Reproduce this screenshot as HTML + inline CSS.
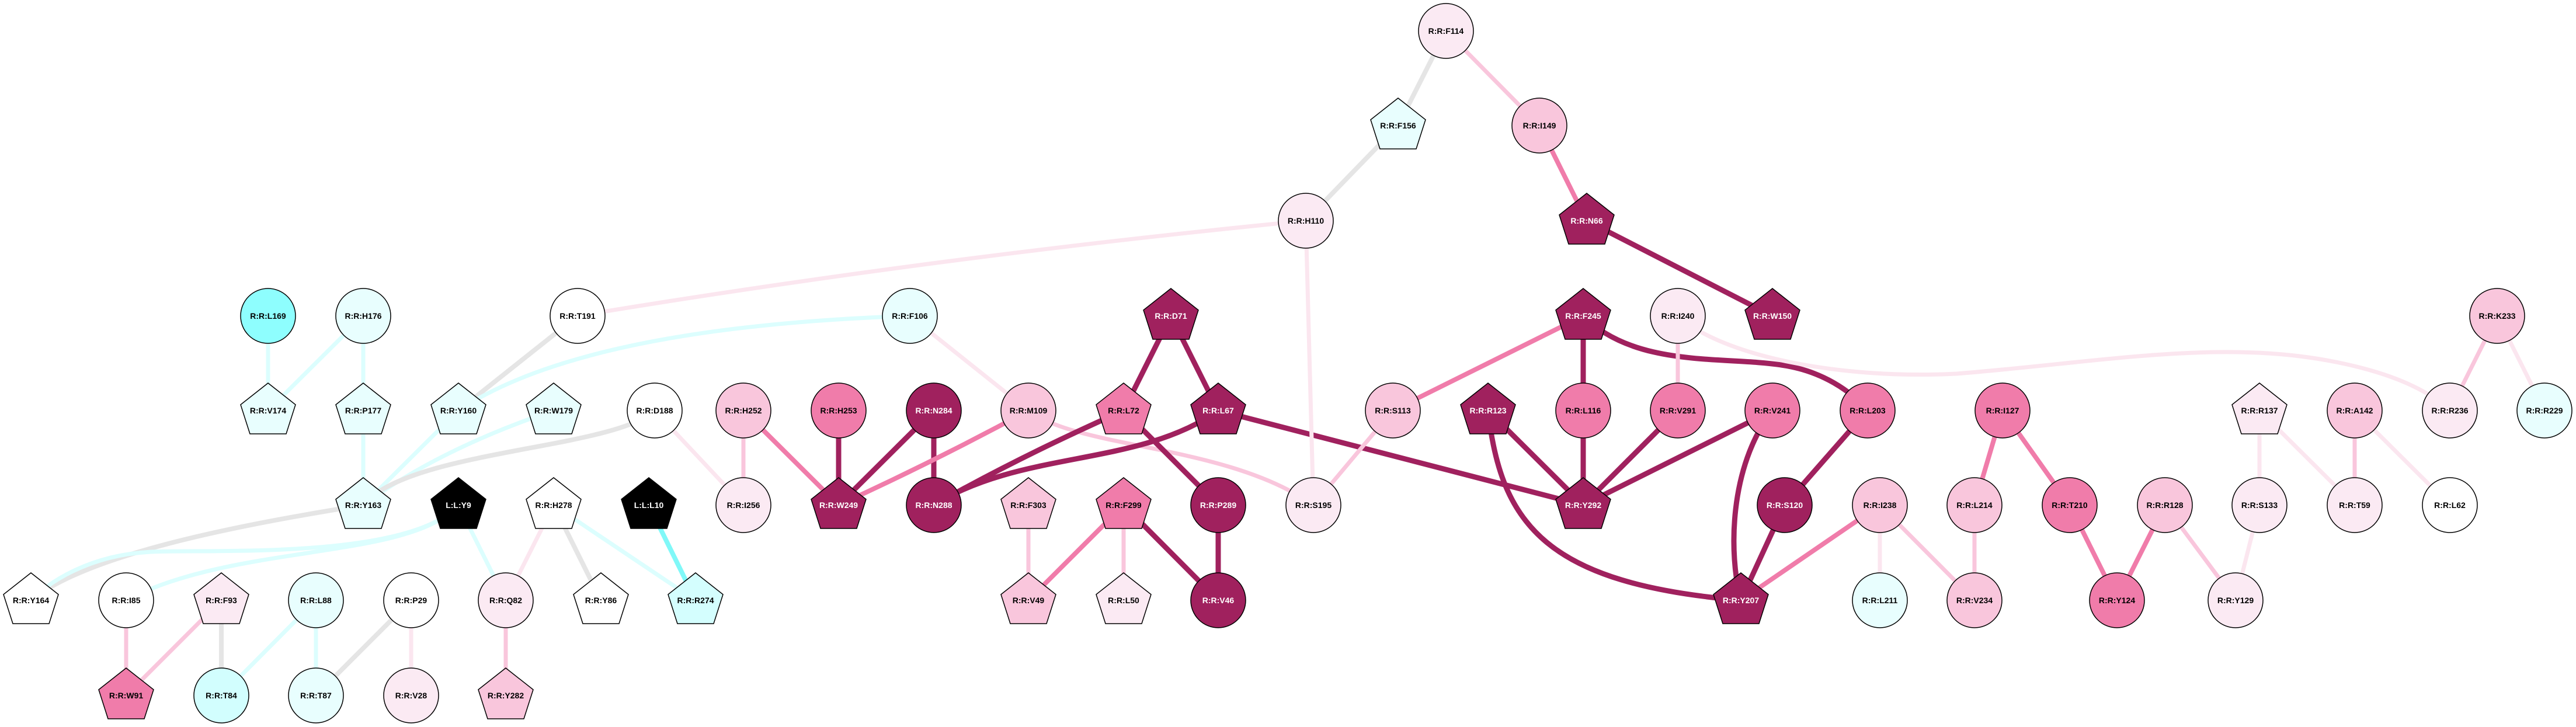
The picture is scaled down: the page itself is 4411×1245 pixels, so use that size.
<!DOCTYPE html>
<html><head><meta charset="utf-8"><style>
html,body{margin:0;padding:0;background:#fff;}
svg{display:block;}
text{font-family:"Liberation Sans",sans-serif;font-size:14px;font-weight:bold;text-anchor:middle;dominant-baseline:central;fill:#000;}
text.w{fill:#fff;}
.n{stroke:#000;stroke-width:1.5;}
path,line{fill:none;}
.dk{stroke:#a0215e;stroke-width:9;}
.md{stroke:#f07caa;stroke-width:8;}
.lp{stroke:#f9c6dc;stroke-width:7;}
.vp{stroke:#fbe6ef;stroke-width:7;}
.gr{stroke:#e5e5e5;stroke-width:8;}
.cy{stroke:#dcfefe;stroke-width:7;}
.cb{stroke:#80f8f8;stroke-width:8;}
</style></head><body>
<svg width="4411" height="1245" viewBox="0 0 4411 1245" xmlns="http://www.w3.org/2000/svg">
<defs>
<polygon id="pg" points="0,-47 47,-10 31,40 -31,40 -47,-10"/>
</defs>
<!-- edges -->
<g>
<line class="cy" x1="459" y1="541" x2="459" y2="703"/>
<line class="cy" x1="622" y1="541" x2="459" y2="703"/>
<line class="cy" x1="622" y1="541" x2="622" y2="703"/>
<line class="cy" x1="622" y1="703" x2="622" y2="865"/>
<line class="gr" x1="989" y1="541" x2="785" y2="703"/>
<path class="cy" d="M1558 541 Q1000 560 785 703"/>
<line class="cy" x1="785" y1="703" x2="622" y2="865"/>
<path class="cy" d="M948 703 Q750 770 622 865"/>
<path class="gr" d="M1121 703 C1050 770 700 770 622 865"/>
<line class="vp" x1="1121" y1="703" x2="1273" y2="865"/>
<path class="vp" d="M989 541 Q1600 440 2236 378"/>
<path class="gr" d="M622 865 C400 900 150 950 53 1028"/>
<path class="cy" d="M785 865 C700 960 350 940 260 945 C150 950 80 1000 53 1028"/>
<path class="cy" d="M785 865 C700 960 400 930 216 1028"/>
<line class="cy" x1="785" y1="865" x2="866" y2="1028"/>
<line class="vp" x1="948" y1="865" x2="866" y2="1028"/>
<line class="gr" x1="948" y1="865" x2="1029" y2="1028"/>
<line class="cy" x1="948" y1="865" x2="1191" y2="1028"/>
<line class="cb" x1="1111" y1="865" x2="1191" y2="1028"/>
<line class="lp" x1="216" y1="1028" x2="216" y2="1191"/>
<line class="lp" x1="379" y1="1028" x2="216" y2="1191"/>
<line class="gr" x1="379" y1="1028" x2="379" y2="1191"/>
<line class="cy" x1="541" y1="1028" x2="379" y2="1191"/>
<line class="cy" x1="541" y1="1028" x2="541" y2="1191"/>
<line class="gr" x1="704" y1="1028" x2="541" y2="1191"/>
<line class="vp" x1="704" y1="1028" x2="704" y2="1191"/>
<line class="lp" x1="866" y1="1028" x2="866" y2="1191"/>
<line class="vp" x1="1558" y1="541" x2="1761" y2="703"/>
<line class="lp" x1="1273" y1="703" x2="1273" y2="865"/>
<line class="md" x1="1273" y1="703" x2="1436" y2="865"/>
<line class="dk" x1="1436" y1="703" x2="1436" y2="865"/>
<line class="dk" x1="1599" y1="703" x2="1436" y2="865"/>
<line class="dk" x1="1599" y1="703" x2="1599" y2="865"/>
<path class="md" d="M1761 703 Q1600 790 1436 865"/>
<path class="lp" d="M1761 703 C1850 770 2100 760 2249 865"/>
<line class="dk" x1="2005" y1="541" x2="1924" y2="703"/>
<line class="dk" x1="2005" y1="541" x2="2086" y2="703"/>
<path class="dk" d="M1924 703 Q1750 780 1599 865"/>
<path class="dk" d="M2086 703 C1950 800 1750 770 1599 865"/>
<line class="dk" x1="1924" y1="703" x2="2086" y2="865"/>
<line class="dk" x1="2086" y1="703" x2="2711" y2="865"/>
<line class="lp" x1="1761" y1="865" x2="1761" y2="1028"/>
<line class="md" x1="1924" y1="865" x2="1761" y2="1028"/>
<line class="lp" x1="1924" y1="865" x2="1924" y2="1028"/>
<line class="dk" x1="1924" y1="865" x2="2086" y2="1028"/>
<line class="dk" x1="2086" y1="865" x2="2086" y2="1028"/>
<line class="vp" x1="2236" y1="378" x2="2249" y2="865"/>
<line class="lp" x1="2385" y1="703" x2="2249" y2="865"/>
<line class="md" x1="2711" y1="541" x2="2385" y2="703"/>
<line class="dk" x1="2711" y1="541" x2="2711" y2="703"/>
<path class="dk" d="M2711 541 C2800 630 2950 610 3050 625 C3120 635 3170 670 3198 703"/>
<line class="lp" x1="2873" y1="541" x2="2873" y2="703"/>
<path class="vp" d="M2873 541 C2950 610 3150 650 3350 640 C3600 620 3800 580 4000 620 C4100 640 4160 670 4195 703"/>
<line class="dk" x1="2548" y1="703" x2="2711" y2="865"/>
<path class="dk" d="M2548 703 C2570 900 2650 1000 2981 1028"/>
<line class="dk" x1="2711" y1="703" x2="2711" y2="865"/>
<line class="dk" x1="2873" y1="703" x2="2711" y2="865"/>
<line class="dk" x1="3035" y1="703" x2="2711" y2="865"/>
<path class="dk" d="M3035 703 C2960 800 2960 950 2981 1028"/>
<line class="dk" x1="3198" y1="703" x2="3056" y2="865"/>
<line class="dk" x1="3056" y1="865" x2="2981" y2="1028"/>
<line class="md" x1="3219" y1="865" x2="2981" y2="1028"/>
<line class="vp" x1="3219" y1="865" x2="3219" y2="1028"/>
<line class="lp" x1="3219" y1="865" x2="3381" y2="1028"/>
<line class="dk" x1="2717" y1="378" x2="3035" y2="541"/>
<line class="md" x1="2636" y1="215" x2="2717" y2="378"/>
<line class="lp" x1="2476" y1="53" x2="2636" y2="215"/>
<line class="gr" x1="2476" y1="53" x2="2394" y2="215"/>
<line class="gr" x1="2394" y1="215" x2="2236" y2="378"/>
<line class="md" x1="3429" y1="703" x2="3381" y2="865"/>
<line class="md" x1="3429" y1="703" x2="3544" y2="865"/>
<line class="md" x1="3544" y1="865" x2="3625" y2="1028"/>
<line class="md" x1="3707" y1="865" x2="3625" y2="1028"/>
<line class="lp" x1="3707" y1="865" x2="3828" y2="1028"/>
<line class="lp" x1="3381" y1="865" x2="3381" y2="1028"/>
<line class="vp" x1="3869" y1="703" x2="3869" y2="865"/>
<line class="vp" x1="3869" y1="703" x2="4032" y2="865"/>
<line class="lp" x1="4032" y1="703" x2="4032" y2="865"/>
<line class="vp" x1="4032" y1="703" x2="4195" y2="865"/>
<line class="vp" x1="3869" y1="865" x2="3828" y2="1028"/>
<line class="lp" x1="4276" y1="541" x2="4195" y2="703"/>
<line class="vp" x1="4276" y1="541" x2="4357" y2="703"/>
</g>
<!-- nodes -->
<g>
<g transform="translate(2476,53)"><circle class="n" r="47" fill="#fbeaf3"/><text>R:R:F114</text></g>
<g transform="translate(2394,215)"><use href="#pg" class="n" fill="#e8fefe"/><text>R:R:F156</text></g>
<g transform="translate(2636,215)"><circle class="n" r="47" fill="#f9c6dc"/><text>R:R:I149</text></g>
<g transform="translate(2236,378)"><circle class="n" r="47" fill="#fbeaf3"/><text>R:R:H110</text></g>
<g transform="translate(2717,378)"><use href="#pg" class="n" fill="#a0215e"/><text class="w">R:R:N66</text></g>

<g transform="translate(459,541)"><circle class="n" r="47" fill="#8efefe"/><text>R:R:L169</text></g>
<g transform="translate(622,541)"><circle class="n" r="47" fill="#e8fefe"/><text>R:R:H176</text></g>
<g transform="translate(989,541)"><circle class="n" r="47" fill="#fff"/><text>R:R:T191</text></g>
<g transform="translate(1558,541)"><circle class="n" r="47" fill="#e8fefe"/><text>R:R:F106</text></g>
<g transform="translate(2005,541)"><use href="#pg" class="n" fill="#a0215e"/><text class="w">R:R:D71</text></g>
<g transform="translate(2711,541)"><use href="#pg" class="n" fill="#a0215e"/><text class="w">R:R:F245</text></g>
<g transform="translate(2873,541)"><circle class="n" r="47" fill="#fbeaf3"/><text>R:R:I240</text></g>
<g transform="translate(3035,541)"><use href="#pg" class="n" fill="#a0215e"/><text class="w">R:R:W150</text></g>
<g transform="translate(4276,541)"><circle class="n" r="47" fill="#f9c6dc"/><text>R:R:K233</text></g>

<g transform="translate(459,703)"><use href="#pg" class="n" fill="#e8fefe"/><text>R:R:V174</text></g>
<g transform="translate(622,703)"><use href="#pg" class="n" fill="#e8fefe"/><text>R:R:P177</text></g>
<g transform="translate(785,703)"><use href="#pg" class="n" fill="#e8fefe"/><text>R:R:Y160</text></g>
<g transform="translate(948,703)"><use href="#pg" class="n" fill="#e8fefe"/><text>R:R:W179</text></g>
<g transform="translate(1121,703)"><circle class="n" r="47" fill="#fff"/><text>R:R:D188</text></g>
<g transform="translate(1273,703)"><circle class="n" r="47" fill="#f9c6dc"/><text>R:R:H252</text></g>
<g transform="translate(1436,703)"><circle class="n" r="47" fill="#f07caa"/><text>R:R:H253</text></g>
<g transform="translate(1599,703)"><circle class="n" r="47" fill="#a0215e"/><text class="w">R:R:N284</text></g>
<g transform="translate(1761,703)"><circle class="n" r="47" fill="#f9c6dc"/><text>R:R:M109</text></g>
<g transform="translate(1924,703)"><use href="#pg" class="n" fill="#f07caa"/><text>R:R:L72</text></g>
<g transform="translate(2086,703)"><use href="#pg" class="n" fill="#a0215e"/><text class="w">R:R:L67</text></g>
<g transform="translate(2385,703)"><circle class="n" r="47" fill="#f9c6dc"/><text>R:R:S113</text></g>
<g transform="translate(2548,703)"><use href="#pg" class="n" fill="#a0215e"/><text class="w">R:R:R123</text></g>
<g transform="translate(2711,703)"><circle class="n" r="47" fill="#f07caa"/><text>R:R:L116</text></g>
<g transform="translate(2873,703)"><circle class="n" r="47" fill="#f07caa"/><text>R:R:V291</text></g>
<g transform="translate(3035,703)"><circle class="n" r="47" fill="#f07caa"/><text>R:R:V241</text></g>
<g transform="translate(3198,703)"><circle class="n" r="47" fill="#f07caa"/><text>R:R:L203</text></g>
<g transform="translate(3429,703)"><circle class="n" r="47" fill="#f07caa"/><text>R:R:I127</text></g>
<g transform="translate(3869,703)"><use href="#pg" class="n" fill="#fbeaf3"/><text>R:R:R137</text></g>
<g transform="translate(4032,703)"><circle class="n" r="47" fill="#f9c6dc"/><text>R:R:A142</text></g>
<g transform="translate(4195,703)"><circle class="n" r="47" fill="#fbeaf3"/><text>R:R:R236</text></g>
<g transform="translate(4357,703)"><circle class="n" r="47" fill="#e8fefe"/><text>R:R:R229</text></g>

<g transform="translate(622,865)"><use href="#pg" class="n" fill="#e8fefe"/><text>R:R:Y163</text></g>
<g transform="translate(785,865)"><use href="#pg" class="n" fill="#000"/><text class="w">L:L:Y9</text></g>
<g transform="translate(948,865)"><use href="#pg" class="n" fill="#fff"/><text>R:R:H278</text></g>
<g transform="translate(1111,865)"><use href="#pg" class="n" fill="#000"/><text class="w">L:L:L10</text></g>
<g transform="translate(1273,865)"><circle class="n" r="47" fill="#fbeaf3"/><text>R:R:I256</text></g>
<g transform="translate(1436,865)"><use href="#pg" class="n" fill="#a0215e"/><text class="w">R:R:W249</text></g>
<g transform="translate(1599,865)"><circle class="n" r="47" fill="#a0215e"/><text class="w">R:R:N288</text></g>
<g transform="translate(1761,865)"><use href="#pg" class="n" fill="#f9c6dc"/><text>R:R:F303</text></g>
<g transform="translate(1924,865)"><use href="#pg" class="n" fill="#f07caa"/><text>R:R:F299</text></g>
<g transform="translate(2086,865)"><circle class="n" r="47" fill="#a0215e"/><text class="w">R:R:P289</text></g>
<g transform="translate(2249,865)"><circle class="n" r="47" fill="#fbeaf3"/><text>R:R:S195</text></g>
<g transform="translate(2711,865)"><use href="#pg" class="n" fill="#a0215e"/><text class="w">R:R:Y292</text></g>
<g transform="translate(3056,865)"><circle class="n" r="47" fill="#a0215e"/><text class="w">R:R:S120</text></g>
<g transform="translate(3219,865)"><circle class="n" r="47" fill="#f9c6dc"/><text>R:R:I238</text></g>
<g transform="translate(3381,865)"><circle class="n" r="47" fill="#f9c6dc"/><text>R:R:L214</text></g>
<g transform="translate(3544,865)"><circle class="n" r="47" fill="#f07caa"/><text>R:R:T210</text></g>
<g transform="translate(3707,865)"><circle class="n" r="47" fill="#f9c6dc"/><text>R:R:R128</text></g>
<g transform="translate(3869,865)"><circle class="n" r="47" fill="#fbeaf3"/><text>R:R:S133</text></g>
<g transform="translate(4032,865)"><circle class="n" r="47" fill="#fbeaf3"/><text>R:R:T59</text></g>
<g transform="translate(4195,865)"><circle class="n" r="47" fill="#fff"/><text>R:R:L62</text></g>

<g transform="translate(53,1028)"><use href="#pg" class="n" fill="#fff"/><text>R:R:Y164</text></g>
<g transform="translate(216,1028)"><circle class="n" r="47" fill="#fff"/><text>R:R:I85</text></g>
<g transform="translate(379,1028)"><use href="#pg" class="n" fill="#fbeaf3"/><text>R:R:F93</text></g>
<g transform="translate(541,1028)"><circle class="n" r="47" fill="#e8fefe"/><text>R:R:L88</text></g>
<g transform="translate(704,1028)"><circle class="n" r="47" fill="#fff"/><text>R:R:P29</text></g>
<g transform="translate(866,1028)"><circle class="n" r="47" fill="#fbeaf3"/><text>R:R:Q82</text></g>
<g transform="translate(1029,1028)"><use href="#pg" class="n" fill="#fff"/><text>R:R:Y86</text></g>
<g transform="translate(1191,1028)"><use href="#pg" class="n" fill="#d4fefe"/><text>R:R:R274</text></g>
<g transform="translate(1761,1028)"><use href="#pg" class="n" fill="#f9c6dc"/><text>R:R:V49</text></g>
<g transform="translate(1924,1028)"><use href="#pg" class="n" fill="#fbeaf3"/><text>R:R:L50</text></g>
<g transform="translate(2086,1028)"><circle class="n" r="47" fill="#a0215e"/><text class="w">R:R:V46</text></g>
<g transform="translate(2981,1028)"><use href="#pg" class="n" fill="#a0215e"/><text class="w">R:R:Y207</text></g>
<g transform="translate(3219,1028)"><circle class="n" r="47" fill="#e8fefe"/><text>R:R:L211</text></g>
<g transform="translate(3381,1028)"><circle class="n" r="47" fill="#f9c6dc"/><text>R:R:V234</text></g>
<g transform="translate(3625,1028)"><circle class="n" r="47" fill="#f07caa"/><text>R:R:Y124</text></g>
<g transform="translate(3828,1028)"><circle class="n" r="47" fill="#fbeaf3"/><text>R:R:Y129</text></g>

<g transform="translate(216,1191)"><use href="#pg" class="n" fill="#f07caa"/><text>R:R:W91</text></g>
<g transform="translate(379,1191)"><circle class="n" r="47" fill="#d2fefe"/><text>R:R:T84</text></g>
<g transform="translate(541,1191)"><circle class="n" r="47" fill="#e8fefe"/><text>R:R:T87</text></g>
<g transform="translate(704,1191)"><circle class="n" r="47" fill="#fbeaf3"/><text>R:R:V28</text></g>
<g transform="translate(866,1191)"><use href="#pg" class="n" fill="#f9c6dc"/><text>R:R:Y282</text></g>
</g>
</svg>
</body></html>
